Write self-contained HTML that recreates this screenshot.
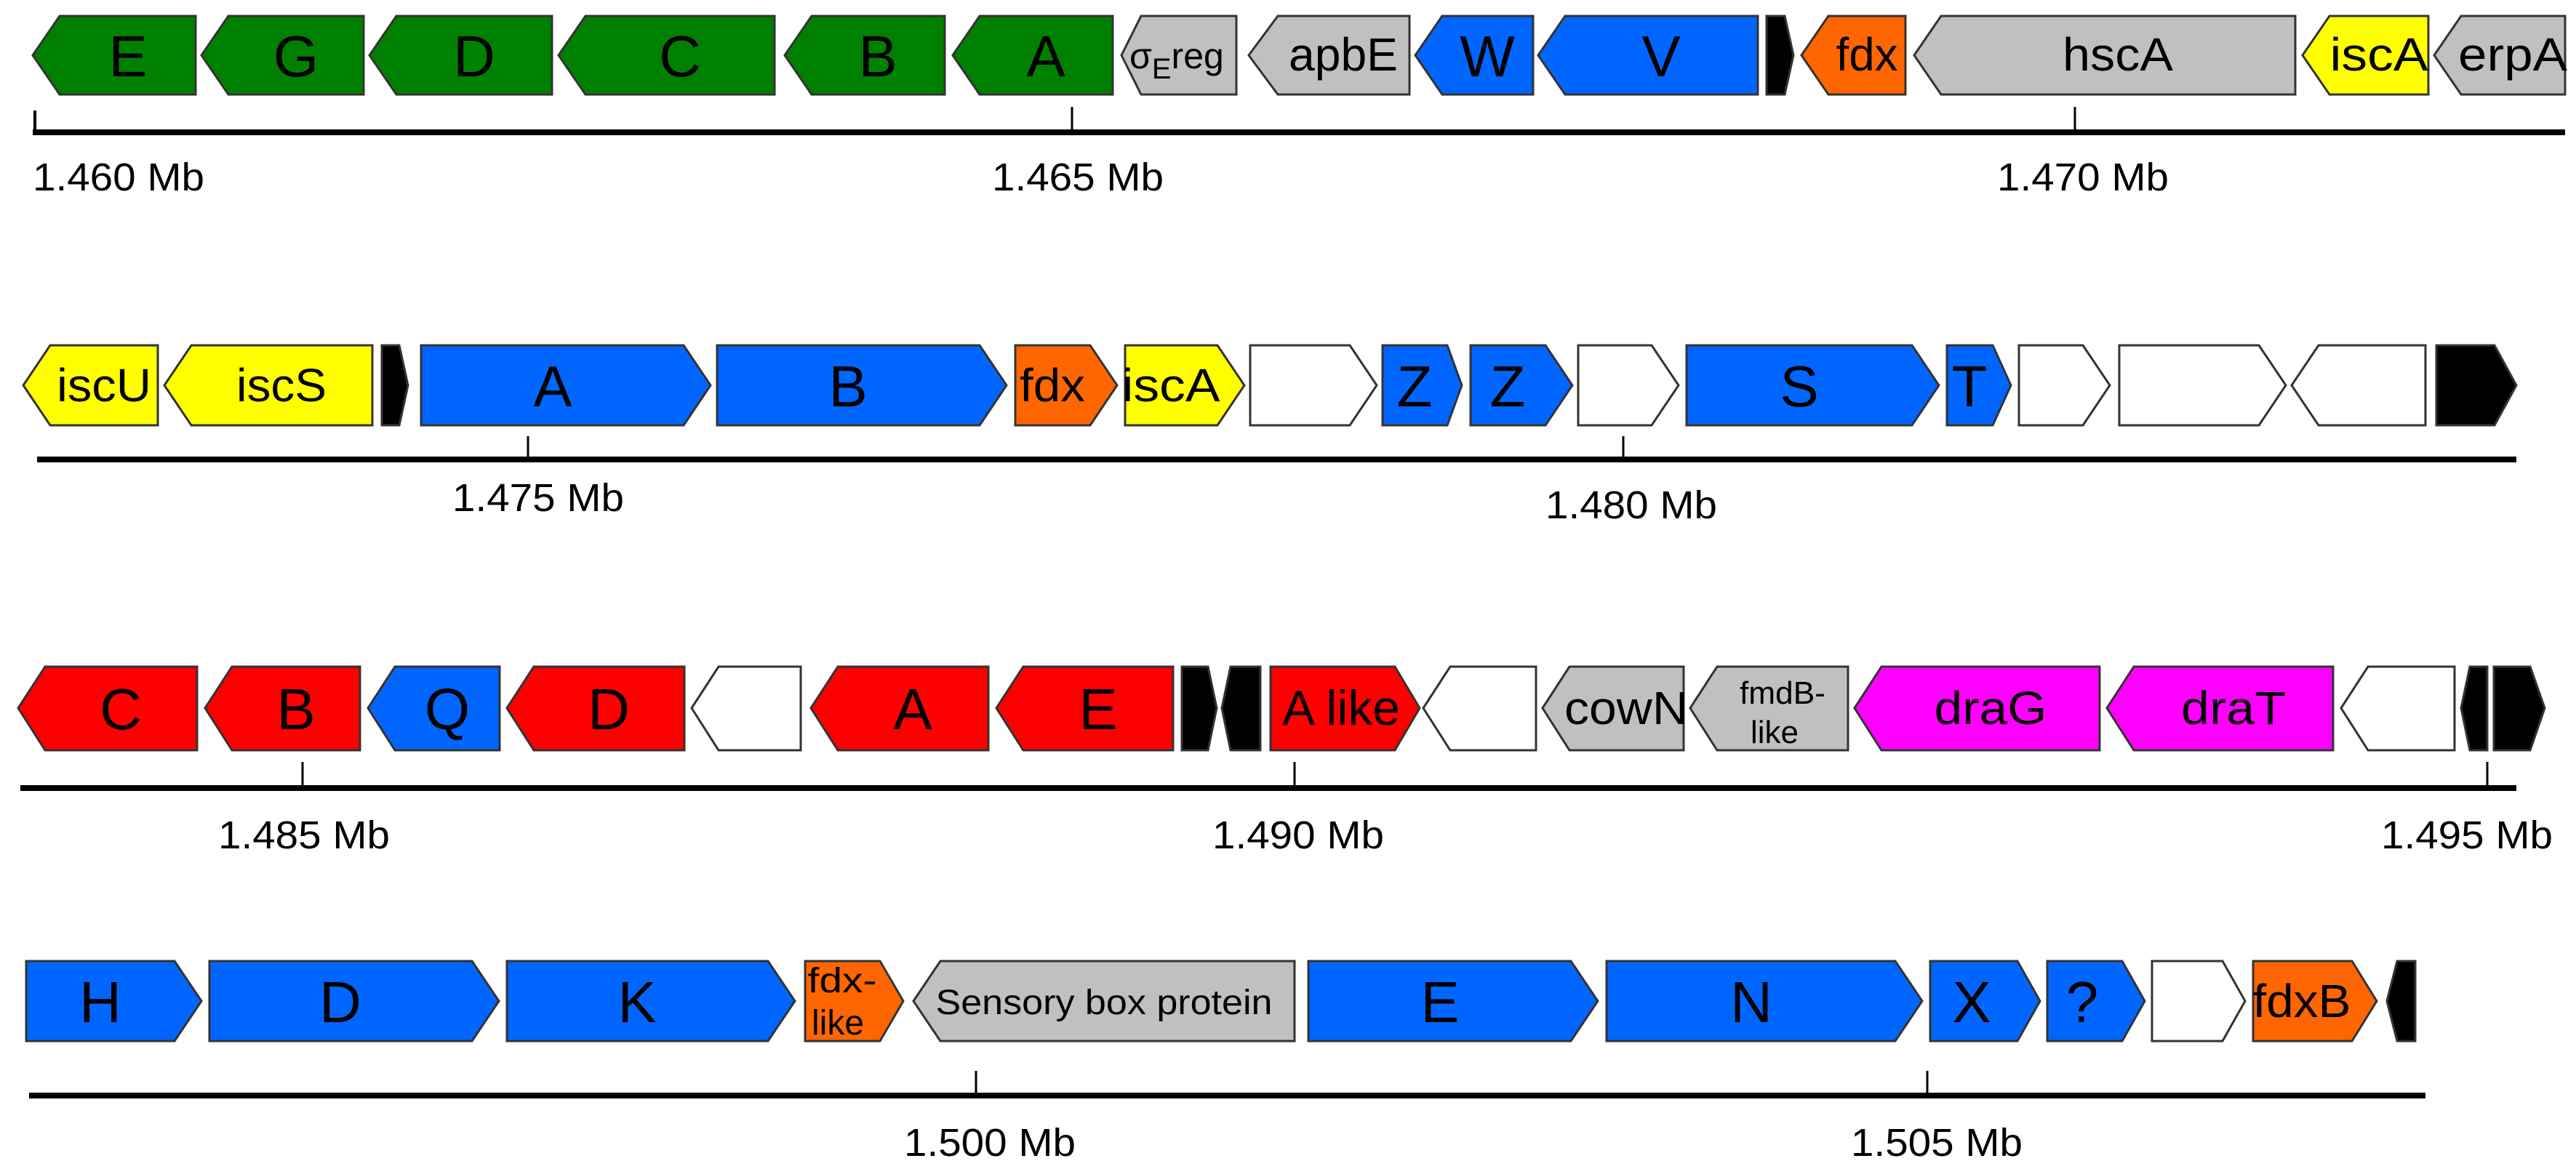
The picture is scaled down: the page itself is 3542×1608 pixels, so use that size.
<!DOCTYPE html>
<html><head><meta charset="utf-8"><style>
html,body{margin:0;padding:0;background:#fff}
svg{display:block}
text{font-family:"Liberation Sans",sans-serif;fill:#000}
.g{stroke:#333;stroke-width:3;stroke-linejoin:miter}
.L{font-size:80px;text-anchor:middle}
.l{font-size:64px;text-anchor:middle}
.mb{font-size:54px;text-anchor:middle}
</style></head><body>
<svg width="3542" height="1608" viewBox="0 0 3542 1608" xmlns="http://www.w3.org/2000/svg">
<!-- Row 1: y 22-130 -->
<g class="g">
<polygon fill="#008000" points="45,76 82,22 269,22 269,130 82,130"/>
<polygon fill="#008000" points="277,76 314,22 500,22 500,130 314,130"/>
<polygon fill="#008000" points="508,76 545,22 759,22 759,130 545,130"/>
<polygon fill="#008000" points="768,76 805,22 1065,22 1065,130 805,130"/>
<polygon fill="#008000" points="1079,76 1116,22 1299,22 1299,130 1116,130"/>
<polygon fill="#008000" points="1310,76 1347,22 1530,22 1530,130 1347,130"/>
<polygon fill="#c0c0c0" points="1542,76 1569,22 1700,22 1700,130 1569,130"/>
<polygon fill="#c0c0c0" points="1717,76 1757,22 1938,22 1938,130 1757,130"/>
<polygon fill="#0066ff" points="1946,76 1983,22 2108,22 2108,130 1983,130"/>
<polygon fill="#0066ff" points="2115,76 2152,22 2417,22 2417,130 2152,130"/>
<polygon fill="#000" points="2429,22 2454,22 2466,76 2454,130 2429,130"/>
<polygon fill="#ff6600" points="2477,76 2514,22 2620,22 2620,130 2514,130"/>
<polygon fill="#c0c0c0" points="2632,76 2669,22 3156,22 3156,130 2669,130"/>
<polygon fill="#ffff00" points="3166,76 3203,22 3339,22 3339,130 3203,130"/>
<polygon fill="#c0c0c0" points="3347,76 3384,22 3527,22 3527,130 3384,130"/>
</g>
<text class="L" x="176" y="105">E</text>
<text class="L" x="407" y="105">G</text>
<text class="L" x="652" y="105">D</text>
<text class="L" x="935" y="105">C</text>
<text class="L" x="1207" y="105">B</text>
<text class="L" x="1438" y="105">A</text>
<text x="1553" y="94" font-size="50">σ<tspan font-size="40" dy="14">E</tspan><tspan dy="-14">reg</tspan></text>
<text class="l" x="1847" y="97" textLength="150" lengthAdjust="spacingAndGlyphs">apbE</text>
<text class="L" x="2045" y="105">W</text>
<text class="L" x="2284" y="105">V</text>
<text class="l" x="2567" y="97" textLength="85" lengthAdjust="spacingAndGlyphs">fdx</text>
<text class="l" x="2912" y="97" textLength="152" lengthAdjust="spacingAndGlyphs">hscA</text>
<text class="l" x="3271" y="97" textLength="135" lengthAdjust="spacingAndGlyphs">iscA</text>
<text class="l" x="3455" y="97" textLength="150" lengthAdjust="spacingAndGlyphs">erpA</text>
<g stroke="#000">
<line x1="45" y1="182" x2="3527" y2="182" stroke-width="8"/>
<line x1="48" y1="152" x2="48" y2="182" stroke-width="4"/>
<line x1="1474" y1="147" x2="1474" y2="182" stroke-width="3"/>
<line x1="2853" y1="147" x2="2853" y2="182" stroke-width="3"/>
</g>
<text class="mb" x="163" y="262" textLength="236" lengthAdjust="spacingAndGlyphs">1.460 Mb</text>
<text class="mb" x="1482" y="262" textLength="236" lengthAdjust="spacingAndGlyphs">1.465 Mb</text>
<text class="mb" x="2864" y="262" textLength="236" lengthAdjust="spacingAndGlyphs">1.470 Mb</text>

<!-- Row 2: y 475-585 -->
<g class="g">
<polygon fill="#ffff00" points="32,530 69,475 217,475 217,585 69,585"/>
<polygon fill="#ffff00" points="226,530 263,475 512,475 512,585 263,585"/>
<polygon fill="#000" points="525,475 549,475 561,530 549,585 525,585"/>
<polygon fill="#0066ff" points="579,475 940,475 977,530 940,585 579,585"/>
<polygon fill="#0066ff" points="986,475 1347,475 1384,530 1347,585 986,585"/>
<polygon fill="#ff6600" points="1396,475 1499,475 1536,530 1499,585 1396,585"/>
<polygon fill="#ffff00" points="1547,475 1674,475 1711,530 1674,585 1547,585"/>
<polygon fill="#fff" points="1719,475 1856,475 1893,530 1856,585 1719,585"/>
<polygon fill="#0066ff" points="1901,475 1990,475 2010,530 1990,585 1901,585"/>
<polygon fill="#0066ff" points="2022,475 2125,475 2162,530 2125,585 2022,585"/>
<polygon fill="#fff" points="2170,475 2271,475 2308,530 2271,585 2170,585"/>
<polygon fill="#0066ff" points="2319,475 2629,475 2666,530 2629,585 2319,585"/>
<polygon fill="#0066ff" points="2677,475 2740,475 2765,530 2740,585 2677,585"/>
<polygon fill="#fff" points="2776,475 2864,475 2901,530 2864,585 2776,585"/>
<polygon fill="#fff" points="2914,475 3106,475 3143,530 3106,585 2914,585"/>
<polygon fill="#fff" points="3151,530 3188,475 3335,475 3335,585 3188,585"/>
<polygon fill="#000" points="3350,475 3430,475 3460,530 3430,585 3350,585"/>
</g>
<text class="l" x="143" y="552" textLength="130" lengthAdjust="spacingAndGlyphs">iscU</text>
<text class="l" x="387" y="552" textLength="124" lengthAdjust="spacingAndGlyphs">iscS</text>
<text class="L" x="760" y="559">A</text>
<text class="L" x="1166" y="559">B</text>
<text class="l" x="1447" y="552" textLength="90" lengthAdjust="spacingAndGlyphs">fdx</text>
<text class="l" x="1610" y="552" textLength="135" lengthAdjust="spacingAndGlyphs">iscA</text>
<text class="L" x="1945" y="559">Z</text>
<text class="L" x="2073" y="559">Z</text>
<text class="L" x="2474" y="559">S</text>
<text class="L" x="2708" y="559">T</text>
<g stroke="#000">
<line x1="51" y1="632" x2="3460" y2="632" stroke-width="8"/>
<line x1="726" y1="600" x2="726" y2="632" stroke-width="3"/>
<line x1="2232" y1="600" x2="2232" y2="632" stroke-width="3"/>
</g>
<text class="mb" x="740" y="703" textLength="236" lengthAdjust="spacingAndGlyphs">1.475 Mb</text>
<text class="mb" x="2243" y="713" textLength="236" lengthAdjust="spacingAndGlyphs">1.480 Mb</text>

<!-- Row 3: y 917-1032 -->
<g class="g">
<polygon fill="#ff0000" points="25,974 62,917 271,917 271,1032 62,1032"/>
<polygon fill="#ff0000" points="282,974 319,917 495,917 495,1032 319,1032"/>
<polygon fill="#0066ff" points="506,974 543,917 687,917 687,1032 543,1032"/>
<polygon fill="#ff0000" points="697,974 734,917 941,917 941,1032 734,1032"/>
<polygon fill="#fff" points="951,974 988,917 1101,917 1101,1032 988,1032"/>
<polygon fill="#ff0000" points="1115,974 1152,917 1359,917 1359,1032 1152,1032"/>
<polygon fill="#ff0000" points="1370,974 1407,917 1613,917 1613,1032 1407,1032"/>
<polygon fill="#000" points="1625,917 1661,917 1673,974 1661,1032 1625,1032"/>
<polygon fill="#000" points="1680,974 1692,917 1733,917 1733,1032 1692,1032"/>
<polygon fill="#ff0000" points="1747,917 1918,917 1952,974 1918,1032 1747,1032"/>
<polygon fill="#fff" points="1957,974 1994,917 2112,917 2112,1032 1994,1032"/>
<polygon fill="#c0c0c0" points="2121,974 2158,917 2315,917 2315,1032 2158,1032"/>
<polygon fill="#c0c0c0" points="2324,974 2361,917 2541,917 2541,1032 2361,1032"/>
<polygon fill="#ff00ff" points="2550,974 2587,917 2887,917 2887,1032 2587,1032"/>
<polygon fill="#ff00ff" points="2897,974 2934,917 3208,917 3208,1032 2934,1032"/>
<polygon fill="#fff" points="3219,974 3256,917 3375,917 3375,1032 3256,1032"/>
<polygon fill="#000" points="3384,974 3396,917 3420,917 3420,1032 3396,1032"/>
<polygon fill="#000" points="3429,917 3479,917 3499,974 3479,1032 3429,1032"/>
</g>
<text class="L" x="166" y="1003">C</text>
<text class="L" x="407" y="1003">B</text>
<text class="L" x="615" y="1003">Q</text>
<text class="L" x="837" y="1003">D</text>
<text class="L" x="1255" y="1003">A</text>
<text class="L" x="1510" y="1003">E</text>
<text x="1763" y="997" font-size="68" textLength="162" lengthAdjust="spacingAndGlyphs">A like</text>
<text class="l" x="2236" y="996" textLength="170" lengthAdjust="spacingAndGlyphs">cowN</text>
<text x="2451" y="968" font-size="44" text-anchor="middle" textLength="118" lengthAdjust="spacingAndGlyphs">fmdB-</text>
<text x="2440" y="1022" font-size="44" text-anchor="middle">like</text>
<text class="l" x="2737" y="996" textLength="155" lengthAdjust="spacingAndGlyphs">draG</text>
<text class="l" x="3071" y="996" textLength="144" lengthAdjust="spacingAndGlyphs">draT</text>
<g stroke="#000">
<line x1="28" y1="1084" x2="3460" y2="1084" stroke-width="8"/>
<line x1="416" y1="1048" x2="416" y2="1084" stroke-width="3"/>
<line x1="1780" y1="1048" x2="1780" y2="1084" stroke-width="3"/>
<line x1="3420" y1="1048" x2="3420" y2="1084" stroke-width="3"/>
</g>
<text class="mb" x="418" y="1167" textLength="236" lengthAdjust="spacingAndGlyphs">1.485 Mb</text>
<text class="mb" x="1785" y="1167" textLength="236" lengthAdjust="spacingAndGlyphs">1.490 Mb</text>
<text class="mb" x="3392" y="1167" textLength="236" lengthAdjust="spacingAndGlyphs">1.495 Mb</text>

<!-- Row 4: y 1322-1432 -->
<g class="g">
<polygon fill="#0066ff" points="36,1322 240,1322 277,1377 240,1432 36,1432"/>
<polygon fill="#0066ff" points="288,1322 649,1322 686,1377 649,1432 288,1432"/>
<polygon fill="#0066ff" points="697,1322 1056,1322 1093,1377 1056,1432 697,1432"/>
<polygon fill="#ff6600" points="1107,1322 1210,1322 1242,1377 1210,1432 1107,1432"/>
<polygon fill="#c0c0c0" points="1256,1377 1293,1322 1780,1322 1780,1432 1293,1432"/>
<polygon fill="#0066ff" points="1799,1322 2160,1322 2197,1377 2160,1432 1799,1432"/>
<polygon fill="#0066ff" points="2209,1322 2606,1322 2643,1377 2606,1432 2209,1432"/>
<polygon fill="#0066ff" points="2654,1322 2774,1322 2805,1377 2774,1432 2654,1432"/>
<polygon fill="#0066ff" points="2815,1322 2918,1322 2949,1377 2918,1432 2815,1432"/>
<polygon fill="#fff" points="2959,1322 3056,1322 3087,1377 3056,1432 2959,1432"/>
<polygon fill="#ff6600" points="3098,1322 3234,1322 3268,1377 3234,1432 3098,1432"/>
<polygon fill="#000" points="3282,1377 3296,1322 3321,1322 3321,1432 3296,1432"/>
</g>
<text class="L" x="138" y="1406">H</text>
<text class="L" x="468" y="1406">D</text>
<text class="L" x="876" y="1406">K</text>
<text x="1158" y="1365" font-size="48" text-anchor="middle" textLength="95" lengthAdjust="spacingAndGlyphs">fdx-</text>
<text x="1152" y="1423" font-size="48" text-anchor="middle">like</text>
<text x="1518" y="1395" font-size="48" text-anchor="middle" textLength="463" lengthAdjust="spacingAndGlyphs">Sensory box protein</text>
<text class="L" x="1980" y="1406">E</text>
<text class="L" x="2408" y="1406">N</text>
<text class="L" x="2711" y="1406">X</text>
<text class="L" x="2863" y="1406">?</text>
<text class="l" x="3165" y="1399" textLength="135" lengthAdjust="spacingAndGlyphs">fdxB</text>
<g stroke="#000">
<line x1="40" y1="1507" x2="3335" y2="1507" stroke-width="8"/>
<line x1="1342" y1="1473" x2="1342" y2="1507" stroke-width="3"/>
<line x1="2650" y1="1473" x2="2650" y2="1507" stroke-width="3"/>
</g>
<text class="mb" x="1361" y="1590" textLength="236" lengthAdjust="spacingAndGlyphs">1.500 Mb</text>
<text class="mb" x="2663" y="1590" textLength="236" lengthAdjust="spacingAndGlyphs">1.505 Mb</text>
</svg>
</body></html>
